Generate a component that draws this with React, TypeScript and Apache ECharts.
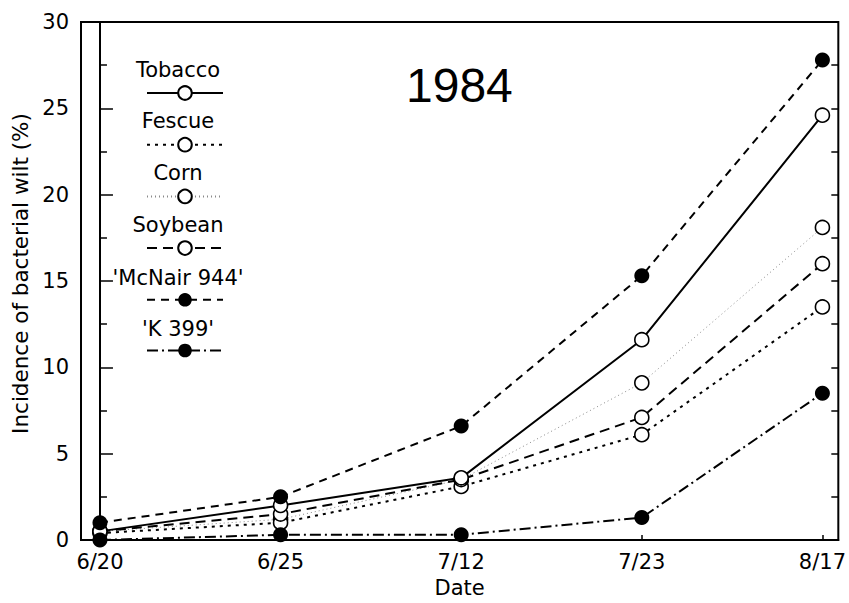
import React, { useEffect, useRef } from "react";
import * as echarts from "echarts";

const dates = ["6/20", "6/25", "7/12", "7/23", "8/17"];
const tobacco = [0.5, 2.0, 3.6, 11.6, 24.6];
const fescue = [0.4, 1.0, 3.1, 6.1, 13.5];
const corn = [0.5, 1.2, 3.5, 9.1, 18.1];
const soybean = [0.5, 1.5, 3.5, 7.1, 16.0];
const mcnair = [1.0, 2.5, 6.6, 15.3, 27.8];
const k399 = [0.0, 0.3, 0.3, 1.3, 8.5];
const legendNames = ["Tobacco", "Fescue", "Corn", "Soybean", "'McNair 944'", "'K 399'"];
const yTicks = [0, 5, 10, 15, 20, 25, 30];

const FONT = "'DejaVu Sans', Verdana, sans-serif";
const TFONT = "'Liberation Sans', Arial, Helvetica, sans-serif";

export default function App() {
  const ref = useRef<HTMLDivElement>(null);
  useEffect(() => {
    if (!ref.current) return;
    const chart = echarts.init(ref.current, null, { renderer: "svg" });
    const toPts = (arr: number[]) => arr.map((v, i) => [i, v]);
    const openSym = { color: "#fff", borderColor: "#000", borderWidth: 1.6 };
    const filledSym = { color: "#000", borderColor: "#000", borderWidth: 0 };
    const mk = (name: string, data: number[], type: any, width: number, color: string, filled: boolean, z: number) => ({
      name,
      type: "line",
      data: toPts(data),
      symbol: "circle",
      symbolSize: filled ? 15 : 14,
      showSymbol: true,
      lineStyle: { color, width, type },
      itemStyle: filled ? filledSym : openSym,
      z,
    });
    const legendTextY = [70, 121, 173, 225, 278, 329];
    chart.setOption({
      animation: false,
      textStyle: { fontFamily: FONT },
      title: {
        text: "1984",
        left: 401,
        top: 56,
        textStyle: { fontSize: 48, fontWeight: "normal", color: "#000", fontFamily: TFONT },
      },
      grid: { left: 81, right: 6, top: 22, bottom: 60, show: true, borderColor: "#000", borderWidth: 2, backgroundColor: "transparent" },
      legend: {
        orient: "vertical",
        left: 141,
        top: 79.5,
        itemWidth: 76,
        itemHeight: 17,
        itemGap: 35.4,
        data: legendNames,
        formatter: () => "",
        selectedMode: false,
      },
      xAxis: {
        type: "value",
        min: -0.105,
        max: 4.088,
        name: "Date",
        nameLocation: "middle",
        nameGap: 37,
        nameTextStyle: { fontSize: 21, color: "#000", fontFamily: FONT },
        axisLine: { show: true, lineStyle: { color: "#000", width: 2 } },
        axisTick: { show: true, inside: true, length: 5, customValues: [0, 1, 2, 3, 4], lineStyle: { color: "#000", width: 1.5 } },
        axisLabel: {
          customValues: [0, 1, 2, 3, 4],
          formatter: (v: number) => dates[Math.round(v)] ?? "",
          fontSize: 21,
          color: "#000",
          margin: 11,
          fontFamily: FONT,
        },
        splitLine: { show: false },
      },
      yAxis: [
        {
          type: "value",
          min: 0,
          max: 30,
          interval: 5,
          name: "Incidence of bacterial wilt (%)",
          nameLocation: "middle",
          nameGap: 48,
          nameTextStyle: { fontSize: 21.5, color: "#000", fontFamily: FONT, padding: [0, 0, 0, 15] },
          axisLine: { show: true, lineStyle: { color: "#000", width: 2 } },
          axisTick: { show: true, inside: true, length: 13, lineStyle: { color: "#000", width: 1.5 } },
          minorTick: { show: true, splitNumber: 2, length: 7, lineStyle: { color: "#000", width: 1.5 } },
          axisLabel: {
            fontSize: 21,
            color: "#000",
            margin: 12,
            fontFamily: FONT,
            customValues: yTicks,
          },
          splitLine: { show: false },
          minorSplitLine: { show: false },
        },
        {
          type: "value",
          position: "right",
          min: 0,
          max: 30,
          interval: 2.5,
          axisLine: { show: false },
          axisTick: { show: true, inside: true, length: 7, lineStyle: { color: "#000", width: 1.5 } },
          axisLabel: { show: false },
          splitLine: { show: false },
        },
      ],
      graphic: legendNames.map((n, i) => ({
        type: "text",
        x: 178,
        y: legendTextY[i],
        style: { text: n, fontSize: 21, fontFamily: FONT, fill: "#000", align: "center", verticalAlign: "middle" },
        z: 100,
      })),
      series: [
        mk("Corn", corn, [1, 3], 1, "#8a8a8a", false, 2),
        mk("Fescue", fescue, [3, 5], 2, "#000", false, 3),
        mk("Soybean", soybean, [10, 6], 2, "#000", false, 4),
        mk("Tobacco", tobacco, "solid", 2, "#000", false, 5),
        mk("'McNair 944'", mcnair, [8, 6], 2, "#000", true, 6),
        mk("'K 399'", k399, [11, 4, 2, 4], 2, "#000", true, 7),
      ],
    });
    return () => chart.dispose();
  }, []);
  return <div ref={ref} style={{ width: 849, height: 603, position: "absolute", left: 0, top: 0, background: "#fff" }} />;
}
